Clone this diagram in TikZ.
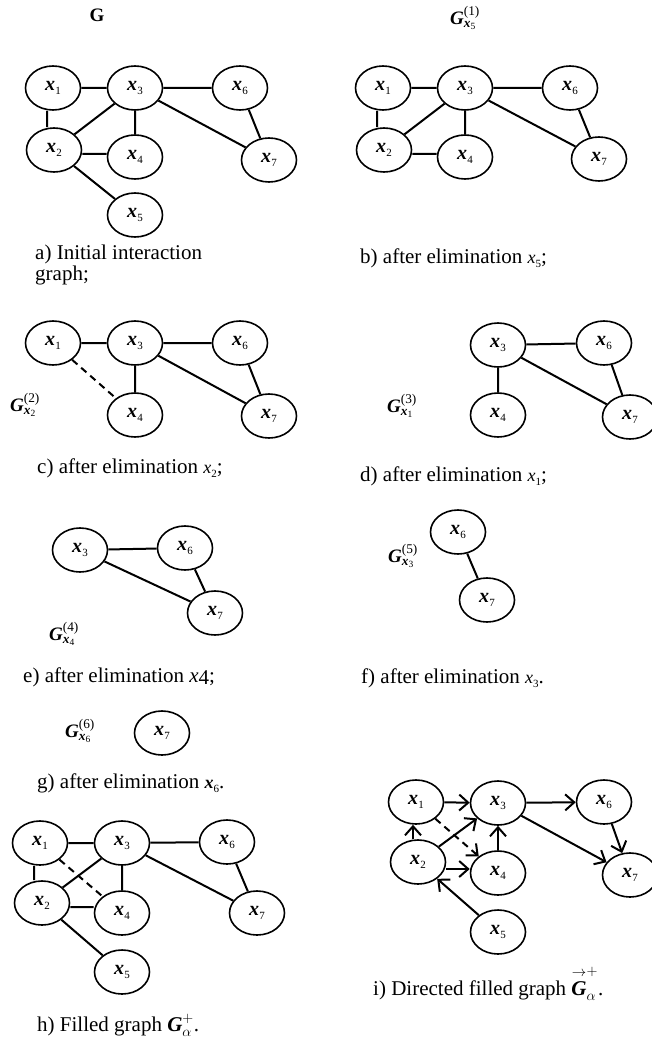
\documentclass[tikz,border=0pt]{standalone}
\usepackage{amsmath}
\usepackage{fontspec}
\setmainfont{Liberation Serif}
\usetikzlibrary{shapes.geometric,arrows.meta}
\newcommand{\xn}[1]{\textbf{\textit{x}}\kern0.3pt\raisebox{-0.4ex}{\fontsize{11}{11}\selectfont #1}}
\newcommand{\Gl}[2]{$\textbf{\textit{G}}^{\text{(#1)}}_{\textbf{\textit{x}}_{\text{#2}}}$}
\newcommand{\xc}[1]{{\fontsize{18}{18}\selectfont\textit{x}}\raisebox{-0.45ex}{\fontsize{11}{11}\selectfont #1}}
\tikzset{
  v/.style={ellipse, draw, line width=1.6pt, minimum width=55pt, minimum height=44pt, inner sep=0pt, font=\fontsize{20}{20}\selectfont},
  ed/.style={line width=2pt},
  dsh/.style={line width=2pt, dash pattern=on 7pt off 5pt},
  arr/.style={line width=2pt, -{Straight Barb[length=9pt,width=16pt]}},
  captxt/.style={anchor=base west, inner sep=0pt, font=\fontsize{21}{21}\selectfont},
  gl/.style={inner sep=0pt, font=\fontsize{19}{19}\selectfont}
}
\begin{document}
\begin{tikzpicture}[x=1pt,y=-1pt]
\useasboundingbox (0,0) rectangle (652,1043);
% ---------- a
\node[gl,font=\fontsize{19}{19}\selectfont\bfseries] (ga) at (97,15) {G};
\node[v] (a1) at (53,88) {\xn{1}};
\node[v] (a3) at (135,88) {\xn{3}};
\node[v] (a6) at (240,88) {\xn{6}};
\node[v] (a2) at (54,150) {\xn{2}};
\node[v] (a4) at (135,157) {\xn{4}};
\node[v] (a7) at (269,160) {\xn{7}};
\node[v] (a5) at (135,215) {\xn{5}};
\draw[ed] (a1)--(a3) ([xshift=-6pt]a1.south)--([xshift=-6pt]a1.south |- a2.north) (a2)--(a3) (a3)--(a4) ([yshift=-4pt]a2.east)--([yshift=-4pt]a2.east -| a4.west) (a2)--(a5) (a3)--(a6) (a3)--(a7) (a6)--(a7);
\node[captxt] (ca) at (35,259) {a) Initial interaction};
\node[captxt] (ca2) at (35,280) {graph;};
% ---------- b
\node[gl] (gb) at (465,18) {\Gl{1}{5}};
\node[v] (b1) at (383,88) {\xn{1}};
\node[v] (b3) at (465,88) {\xn{3}};
\node[v] (b6) at (570,88) {\xn{6}};
\node[v] (b2) at (384,150) {\xn{2}};
\node[v] (b4) at (465,157) {\xn{4}};
\node[v] (b7) at (599,159) {\xn{7}};
\draw[ed] (b1)--(b3) ([xshift=-6pt]b1.south)--([xshift=-6pt]b1.south |- b2.north) (b2)--(b3) (b3)--(b4) ([yshift=-4pt]b2.east)--([yshift=-4pt]b2.east -| b4.west) (b3)--(b6) (b3)--(b7) (b6)--(b7);
\node[captxt] (cb) at (360,263) {b) after elimination \xc{5};};
% ---------- c
\node[gl] (gc) at (25,405) {\Gl{2}{2}};
\node[v] (c1) at (53,343) {\xn{1}};
\node[v] (c3) at (135,343) {\xn{3}};
\node[v] (c6) at (240,343) {\xn{6}};
\node[v] (c4) at (135,415) {\xn{4}};
\node[v] (c7) at (269,416) {\xn{7}};
\draw[ed] (c1)--(c3) (c3)--(c4) (c3)--(c6) (c3)--(c7) (c6)--(c7);
\draw[dsh] (c1)--(c4);
\node[captxt] (cc) at (37,473) {c) after elimination \xc{2};};
% ---------- d
\node[gl] (gd) at (402,406) {\Gl{3}{1}};
\node[v] (d3) at (498,345) {\xn{3}};
\node[v] (d6) at (604,343) {\xn{6}};
\node[v] (d4) at (498,415) {\xn{4}};
\node[v] (d7) at (630,417) {\xn{7}};
\draw[ed] (d3)--(d4) (d3)--(d6) (d3)--(d7) (d6)--(d7);
\node[captxt] (cd) at (360,481) {d) after elimination \xc{1};};
% ---------- e
\node[gl] (ge) at (64,634) {\Gl{4}{4}};
\node[v] (e3) at (80,550) {\xn{3}};
\node[v] (e6) at (185,548) {\xn{6}};
\node[v] (e7) at (215,613) {\xn{7}};
\draw[ed] (e3)--(e6) (e3)--(e7) (e6)--(e7);
\node[captxt] (ce) at (23,682) {e) after elimination \textit{x}\raisebox{-0.3ex}{4};};
% ---------- f
\node[gl] (gf) at (403,556) {\Gl{5}{3}};
\node[v] (f6) at (458,532) {\xn{6}};
\node[v] (f7) at (487,600) {\xn{7}};
\draw[ed] (f6)--(f7);
\node[captxt] (cf) at (361,683) {f) after elimination \xc{3}.};
% ---------- g
\node[gl] (gg) at (80,731) {\Gl{6}{6}};
\node[v] (g7) at (162,733) {\xn{7}};
\node[captxt] (cg) at (37,788) {g) after elimination {\fontsize{18}{18}\selectfont\textbf{\textit{x}}}\raisebox{-0.45ex}{\fontsize{11}{11}\selectfont 6}.};
% ---------- h
\node[v] (h1) at (40,843) {\xn{1}};
\node[v] (h3) at (122,843) {\xn{3}};
\node[v] (h6) at (227,842) {\xn{6}};
\node[v] (h2) at (42,903) {\xn{2}};
\node[v] (h4) at (122,913) {\xn{4}};
\node[v] (h7) at (257,913) {\xn{7}};
\node[v] (h5) at (122,972) {\xn{5}};
\draw[ed] (h1)--(h3) ([xshift=-6pt]h1.south)--([xshift=-6pt]h1.south |- h2.north) (h2)--(h3) (h3)--(h4) ([yshift=-4pt]h2.east)--([yshift=-4pt]h2.east -| h4.west) (h2)--(h5) (h3)--(h6) (h3)--(h7) (h6)--(h7);
\draw[dsh] (h1)--(h4);
\node[captxt] (ch) at (37,1031) {h) Filled graph $\textbf{\textit{G}}^{+}_{\alpha}$.};
% ---------- i
\node[v] (i1) at (416,802) {\xn{1}};
\node[v] (i3) at (498,803) {\xn{3}};
\node[v] (i6) at (604,802) {\xn{6}};
\node[v] (i2) at (418,862) {\xn{2}};
\node[v] (i4) at (498,873) {\xn{4}};
\node[v] (i7) at (630,875) {\xn{7}};
\node[v] (i5) at (498,932) {\xn{5}};
\draw[arr] (i1)--(i3);
\draw[arr] (i3)--(i6);
\draw[arr] (i3)--(i7);
\draw[arr] (i6)--(i7);
\draw[arr] ([xshift=-5pt]i2.north)--([xshift=-5pt]i2.north |- i1.south);
\draw[arr] (i2)--(i3);
\draw[arr] (i4)--(i3);
\draw[arr] ([yshift=-7pt]i2.east)--([yshift=-7pt]i2.east -| i4.west);
\draw[arr] (i5)--(i2);
\draw[arr,dash pattern=on 7pt off 5pt] (i1)--(i4);
\node[captxt] (ci) at (373,995) {i) Directed filled graph ${\overset{\rightarrow}{\textbf{\textit{G}}}}^{+}_{\alpha}$.};
\end{tikzpicture}
\end{document}
